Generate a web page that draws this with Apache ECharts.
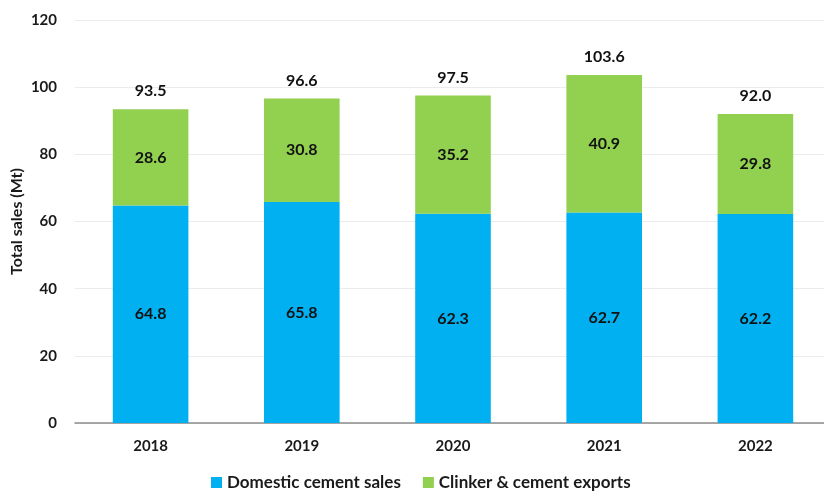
<!DOCTYPE html>
<html>
<head>
<meta charset="utf-8">
<script src="https://cdn.jsdelivr.net/npm/echarts@6/dist/echarts.min.js"></script>
<style>
  html, body { margin: 0; padding: 0; background: #ffffff; }
  #chart { width: 824px; height: 491px; }
</style>
</head>
<body>
<div id="chart"></div>
<script>
// Cement sales by year (Mt)
const years = ['2018', '2019', '2020', '2021', '2022'];
const domesticSales = [64.8, 65.8, 62.3, 62.7, 62.2];
const exportSales = [28.6, 30.8, 35.2, 40.9, 29.8];
const totalSales = [93.5, 96.6, 97.5, 103.6, 92.0];
const yTicks = [0, 20, 40, 60, 80, 100, 120];

const FONT = 'Lato';
const chart = echarts.init(document.getElementById('chart'), null, { renderer: 'canvas' });

chart.setOption({
  animation: false,
  textStyle: { fontFamily: FONT },
  grid: { left: 75, width: 756, top: 20, bottom: 68, containLabel: false, outerBoundsMode: 'none' },
  legend: {
    top: 469,
    left: 206,
    itemWidth: 11,
    itemHeight: 11,
    itemGap: 22,
    icon: 'rect',
    textStyle: { fontFamily: FONT, fontSize: 17, fontWeight: 'bold', color: '#1a1a1a' },
    data: ['Domestic cement sales', 'Clinker & cement exports']
  },
  xAxis: {
    type: 'category',
    data: years,
    axisLine: { lineStyle: { color: '#8c8c8c', width: 1.5 } },
    axisTick: { show: false },
    axisLabel: { fontFamily: FONT, fontSize: 15, fontWeight: 'bold', color: '#1a1a1a', margin: 16 }
  },
  yAxis: {
    type: 'value',
    min: yTicks[0],
    max: yTicks[yTicks.length - 1],
    interval: 20,
    name: 'Total sales (Mt)',
    nameLocation: 'middle',
    nameGap: 50,
    nameMoveOverlap: false,
    nameTextStyle: { fontFamily: FONT, fontSize: 16, fontWeight: 'bold', color: '#1a1a1a' },
    axisLine: { show: false },
    axisTick: { show: false },
    axisLabel: { fontFamily: FONT, fontSize: 15, fontWeight: 'bold', color: '#1a1a1a', margin: 18 },
    splitLine: { lineStyle: { color: '#ebebeb', width: 1 } }
  },
  series: [
    {
      name: 'Domestic cement sales',
      type: 'bar',
      stack: 'total',
      barWidth: '50%',
      data: domesticSales,
      itemStyle: { color: '#00B0F0' },
      label: {
        show: true,
        position: 'inside',
        fontFamily: FONT, fontSize: 16, fontWeight: 'bold', color: '#111111',
        formatter: p => p.value.toFixed(1)
      }
    },
    {
      name: 'Clinker & cement exports',
      type: 'bar',
      stack: 'total',
      barWidth: '50%',
      data: exportSales,
      itemStyle: { color: '#92D050' },
      label: {
        show: true,
        position: 'inside',
        fontFamily: FONT, fontSize: 16, fontWeight: 'bold', color: '#111111',
        formatter: p => p.value.toFixed(1)
      }
    },
    {
      // Zero-height cap carrying the stack totals above each column
      name: 'total',
      type: 'bar',
      stack: 'total',
      barWidth: '50%',
      data: totalSales.map(() => 0),
      itemStyle: { color: 'transparent' },
      label: {
        show: true,
        position: 'top',
        distance: 10,
        fontFamily: FONT, fontSize: 16, fontWeight: 'bold', color: '#111111',
        formatter: p => totalSales[p.dataIndex].toFixed(1)
      }
    }
  ]
});
</script>
</body>
</html>
